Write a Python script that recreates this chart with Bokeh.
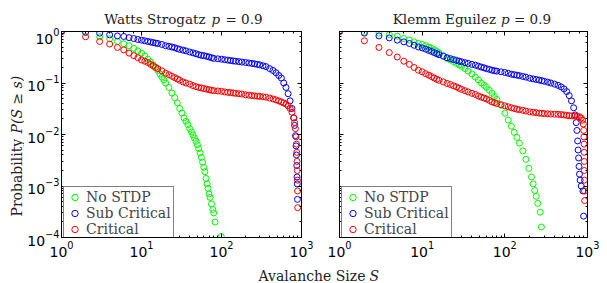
import math
from bokeh.plotting import figure
from bokeh.models import Range1d, LogAxis, Legend, LegendItem, CustomJSTickFormatter
from bokeh.layouts import column, row
from bokeh.embed import file_html
from bokeh.resources import INLINE
from bokeh.core.properties import value

GREEN = "#00ff00"
BLUE = "#0000ff"
RED = "#ff0000"

series_names = ["No STDP", "Sub Critical", "Critical"]
titles = [("Watts Strogatz", "p", "= 0.9"), ("Klemm Eguilez", "p", "= 0.9")]
y_label = ("Probability", "P(S \u2265 s)")
x_label = ("Avalanche Size", "S")

# ---- Watts Strogatz p = 0.9 ----
ws_nostdp_s = [1, 2, 3, 4, 5, 6, 7, 8, 9, 10, 11, 12, 13, 14, 15, 16, 17, 18, 19, 20,
               22, 24, 26, 28, 30, 32, 34, 36, 38, 40, 42, 44, 46, 48, 50, 52, 54, 56, 58, 60,
               62, 64, 66, 68, 70, 72, 75, 78, 80, 83, 99]
ws_nostdp_p = [1.0, 0.95, 0.79, 0.72, 0.64, 0.58, 0.53, 0.47, 0.42, 0.38,
               0.335, 0.29, 0.255, 0.225, 0.20, 0.175, 0.15, 0.13, 0.115, 0.10,
               0.082, 0.064, 0.052, 0.041, 0.032, 0.026, 0.021, 0.018, 0.0155, 0.013,
               0.0112, 0.0098, 0.0085, 0.0074, 0.0063, 0.0053, 0.0044, 0.0036, 0.0029, 0.0023,
               0.0019, 0.0014, 0.0011, 0.0009, 0.0007, 0.0006, 0.00045, 0.00035, 0.0003, 0.0002, 0.000105]

ws_sub_s = [1, 2, 3, 4, 5, 6, 7, 8, 9, 10, 11, 12, 13, 14, 15, 16, 18, 20, 22, 24, 26, 28, 30,
            33, 36, 40, 44, 48, 52, 56, 60, 65, 70, 75, 80, 90, 100,
            110, 120, 130, 140, 150, 165, 180, 200, 220, 240, 260, 280, 300,
            330, 360, 400, 440, 480, 520, 560, 600, 640, 680, 720, 760, 800,
            820, 840, 855, 865, 873, 880, 885, 890]
ws_sub_p = [1.0, 0.97, 0.93, 0.86, 0.82, 0.80, 0.76, 0.73, 0.70, 0.68, 0.66, 0.64, 0.625, 0.61, 0.595, 0.585,
            0.56, 0.53, 0.515, 0.50, 0.485, 0.465, 0.45,
            0.435, 0.42, 0.40, 0.385, 0.37, 0.355, 0.345, 0.34, 0.33, 0.32, 0.31, 0.30, 0.295, 0.29,
            0.283, 0.278, 0.273, 0.268, 0.265, 0.26, 0.255, 0.25, 0.245, 0.24, 0.235, 0.23, 0.225,
            0.216, 0.208, 0.19, 0.175, 0.158, 0.14, 0.125, 0.10, 0.082, 0.062, 0.045, 0.032, 0.021,
            0.015, 0.0095, 0.006, 0.004, 0.0025, 0.0015, 0.0011, 0.00055]

ws_crit_s = [1, 2, 3, 4, 5, 6, 7, 8, 9, 10, 11, 12, 13, 14, 15, 16, 18, 20, 22, 24, 26, 28, 30,
             33, 36, 40, 44, 48, 52, 56, 60, 65, 70, 75, 80, 90, 100,
             110, 120, 130, 140, 150, 165, 180, 200, 220, 240, 260, 280, 300,
             330, 360, 400, 440, 480, 520, 560, 600, 640, 680, 720, 760, 800,
             820, 840, 855, 865, 873, 880, 885, 889, 893, 896]
ws_crit_p = [1.0, 0.79, 0.64, 0.57, 0.49, 0.44, 0.38, 0.34, 0.31, 0.28, 0.265, 0.25, 0.23, 0.215, 0.20, 0.19,
             0.172, 0.155, 0.145, 0.135, 0.127, 0.12, 0.113,
             0.105, 0.10, 0.095, 0.089, 0.085, 0.082, 0.08, 0.078, 0.076, 0.074, 0.072, 0.071, 0.07, 0.069,
             0.067, 0.066, 0.065, 0.064, 0.063, 0.062, 0.061, 0.059, 0.058, 0.057, 0.056, 0.0555, 0.055,
             0.054, 0.053, 0.051, 0.049, 0.047, 0.045, 0.043, 0.041, 0.039, 0.036, 0.032, 0.027, 0.021,
             0.017, 0.013, 0.009, 0.0065, 0.0045, 0.003, 0.002, 0.0013, 0.0008, 0.00038]

# ---- Klemm Eguilez p = 0.9 ----
ke_nostdp_s = [1, 2, 3, 4, 5, 6, 7, 8, 9, 10, 11, 12, 13, 14, 15, 16, 18, 20, 22, 24, 26, 28, 30,
               33, 36, 40, 44, 48, 52, 56, 60, 65, 70, 75, 80, 90, 100,
               110, 120, 130, 140, 150, 165, 180, 195, 210, 220, 230, 240, 250, 268, 277]
ke_nostdp_p = [1.0, 0.97, 0.93, 0.87, 0.81, 0.73, 0.68, 0.63, 0.59, 0.56, 0.53, 0.50, 0.47, 0.44, 0.41, 0.385,
               0.34, 0.30, 0.28, 0.26, 0.24, 0.225, 0.21,
               0.19, 0.17, 0.15, 0.13, 0.115, 0.10, 0.09, 0.082, 0.072, 0.063, 0.055, 0.048, 0.037, 0.026,
               0.019, 0.0145, 0.011, 0.0088, 0.0068, 0.0048, 0.0033, 0.0022, 0.0015, 0.0011,
               0.00082, 0.00063, 0.00046, 0.00031, 0.00016]

ke_sub_s = [1, 2, 3, 4, 5, 6, 7, 8, 9, 10, 11, 12, 13, 14, 15, 16, 18, 20, 22, 24, 26, 28, 30,
            33, 36, 40, 44, 48, 52, 56, 60, 65, 70, 75, 80, 90, 100,
            110, 120, 130, 140, 150, 165, 180, 200, 220, 240, 260, 280, 300,
            330, 360, 400, 440, 480, 520, 560, 600,
            640, 680, 710, 730, 745, 760, 770, 780, 790, 800, 815, 840, 880, 897]
ke_sub_p = [1.0, 0.93, 0.82, 0.75, 0.68, 0.63, 0.585, 0.54, 0.50, 0.48, 0.455, 0.43, 0.41, 0.39, 0.37, 0.355,
            0.33, 0.31, 0.297, 0.285, 0.275, 0.265, 0.258,
            0.248, 0.24, 0.23, 0.222, 0.212, 0.204, 0.197, 0.19, 0.184, 0.177, 0.173, 0.17, 0.165, 0.16,
            0.154, 0.148, 0.145, 0.142, 0.139, 0.134, 0.13, 0.124, 0.12, 0.117, 0.114, 0.111, 0.108,
            0.104, 0.10, 0.095, 0.09, 0.084, 0.077, 0.068, 0.057,
            0.045, 0.033, 0.024, 0.017, 0.012, 0.0075, 0.005, 0.0035, 0.0024, 0.0017, 0.0013, 0.001, 0.0008, 0.00026]

ke_crit_s = [1, 2, 3, 4, 5, 6, 7, 8, 9, 10, 11, 12, 13, 14, 15, 16, 18, 20, 22, 24, 26, 28, 30,
             33, 36, 40, 44, 48, 52, 56, 60, 65, 70, 75, 80, 90, 100,
             110, 120, 130, 140, 150, 165, 180, 200, 220, 240, 260, 280, 300,
             330, 360, 400, 440, 480, 520, 560, 600,
             650, 700, 750, 800, 840, 870, 890, 900, 905, 909, 912, 914, 916, 918, 920, 922]
ke_crit_p = [1.0, 0.66, 0.49, 0.39, 0.32, 0.265, 0.23, 0.20, 0.177, 0.165, 0.152, 0.142, 0.133, 0.125, 0.118, 0.113,
             0.105, 0.098, 0.093, 0.088, 0.084, 0.079, 0.075,
             0.071, 0.067, 0.063, 0.06, 0.056, 0.053, 0.051, 0.049, 0.046, 0.043, 0.0415, 0.040, 0.038, 0.036,
             0.0345, 0.033, 0.032, 0.031, 0.0303, 0.0295, 0.0285, 0.0275, 0.027, 0.0265, 0.026, 0.0258, 0.0255,
             0.0252, 0.025, 0.0248, 0.0246, 0.0244, 0.024, 0.0236, 0.0232,
             0.023, 0.0228, 0.0225, 0.022, 0.021, 0.019, 0.016, 0.012, 0.009, 0.0065, 0.0045, 0.003, 0.002,
             0.0013, 0.0008, 0.00052]

SERIF = "DejaVu Serif"
SANS = "DejaVu Sans"
TXT = "#222222"
HEAD_H = 27
FRAME_H = 206
TOP_B = 4
BOT_B = 21
ROW_H = TOP_B + FRAME_H + BOT_B
TOTAL_W = 599
YLAB_W = 24
XL_H = 23


def style_axis(ax, show_labels):
    ax.axis_line_color = "black"
    ax.axis_line_width = 1
    ax.major_tick_in = 4
    ax.major_tick_out = 0
    ax.minor_tick_in = 2
    ax.minor_tick_out = 0
    ax.major_tick_line_color = "black"
    ax.minor_tick_line_color = "black"
    if show_labels:
        ax.major_label_text_font = SANS
        ax.major_label_text_font_size = "14px"
        ax.major_label_text_color = "black"
    else:
        ax.formatter = CustomJSTickFormatter(code="return ' '")
        ax.major_label_text_font_size = "1px"
        ax.major_label_standoff = 0


def blank_fig(w, h):
    f = figure(frame_width=w, frame_height=h, x_range=Range1d(0, w), y_range=Range1d(0, h),
               min_border=0, output_backend="svg", toolbar_location=None)
    f.axis.visible = False
    f.grid.visible = False
    f.outline_line_color = None
    return f


def make_panel(data, frame_w, b_left, b_right, ylabels):
    p = figure(x_axis_type="log", y_axis_type="log",
               x_range=Range1d(1, 1000), y_range=Range1d(1e-4, 1),
               frame_width=frame_w, frame_height=FRAME_H,
               min_border_left=b_left, min_border_right=b_right,
               min_border_top=TOP_B, min_border_bottom=BOT_B,
               output_backend="svg", toolbar_location=None)
    p.grid.visible = False
    p.outline_line_color = "black"
    p.outline_line_width = 1
    p.background_fill_color = "white"
    p.border_fill_color = "white"

    style_axis(p.xaxis[0], True)
    p.xaxis[0].major_label_standoff = 3
    style_axis(p.yaxis[0], ylabels)
    if ylabels:
        p.yaxis[0].major_label_standoff = 2
    top = LogAxis()
    style_axis(top, False)
    p.add_layout(top, "above")
    right = LogAxis()
    style_axis(right, False)
    p.add_layout(right, "right")

    items = []
    for (s, pr, color), name in zip(data, series_names):
        r = p.scatter(s, pr, marker="circle", size=6, fill_color=None,
                      line_color=color, line_width=1)
        items.append(LegendItem(label=name, renderers=[r]))

    leg = Legend(items=items, location=(2, -3), margin=0, padding=2, spacing=0,
                 glyph_width=17, glyph_height=16, label_height=16, label_standoff=3,
                 label_text_font=SERIF, label_text_font_size="14px",
                 border_line_color="black", border_line_width=1.5,
                 background_fill_color="white", background_fill_alpha=1.0)
    p.add_layout(leg, "center")
    return p


p1 = make_panel([(ws_nostdp_s, ws_nostdp_p, GREEN), (ws_sub_s, ws_sub_p, BLUE), (ws_crit_s, ws_crit_p, RED)],
                240, 37, 14, True)
p2 = make_panel([(ke_nostdp_s, ke_nostdp_p, GREEN), (ke_sub_s, ke_sub_p, BLUE), (ke_crit_s, ke_crit_p, RED)],
                248, 24, 12, False)

# header with the two panel titles
header = blank_fig(TOTAL_W, HEAD_H)
TY = 8.5
for (a, b, c), (xa, xb, xc) in zip(titles, [(205, 211, 225), (495.5, 500.5, 513.5)]):
    header.text(x=[xa], y=[TY], text=[a], text_align="right", text_baseline="alphabetic",
                text_font=value(SERIF), text_font_size="13.5px", text_color=TXT)
    header.text(x=[xb], y=[TY], text=[b], text_align="left", text_baseline="alphabetic",
                text_font=value(SERIF), text_font_size="13.5px", text_font_style="italic", text_color=TXT)
    header.text(x=[xc], y=[TY], text=[c], text_align="left", text_baseline="alphabetic",
                text_font=value(SERIF), text_font_size="13.5px", text_color=TXT)

# rotated y-axis label
ylab = blank_fig(YLAB_W, ROW_H)
ylab.text(x=[16.5], y=[46], text=[y_label[0]], angle=math.pi / 2, text_align="left", text_baseline="middle",
          text_font=value(SERIF), text_font_size="14px", text_color=TXT)
ylab.text(x=[16.5], y=[129], text=[y_label[1]], angle=math.pi / 2, text_align="left", text_baseline="middle",
          text_font=value(SERIF), text_font_size="14px", text_font_style="italic", text_color=TXT)

# shared x-axis label
xl = blank_fig(TOTAL_W, XL_H)
xl.text(x=[365], y=[7], text=[x_label[0]], text_align="right", text_baseline="alphabetic",
        text_font=value(SERIF), text_font_size="14px", text_color=TXT)
xl.text(x=[369], y=[7], text=[x_label[1]], text_align="left", text_baseline="alphabetic",
        text_font=value(SERIF), text_font_size="14px", text_font_style="italic", text_color=TXT)

layout = column(header, row(ylab, p1, p2, spacing=0), xl, spacing=0)
open("out.html", "w").write(file_html(layout, INLINE))
